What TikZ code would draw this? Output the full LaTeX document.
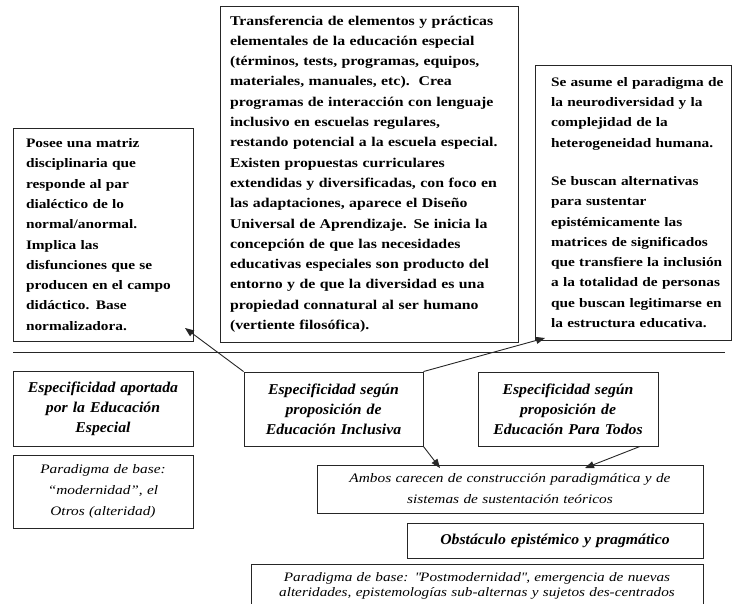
\documentclass[tikz,border=0pt]{standalone}
\usepackage{fontspec}
\setmainfont{Liberation Serif}[FakeStretch=1.18]
\newfontfamily\headfont{Liberation Serif}[FakeStretch=1.05]
\usetikzlibrary{arrows.meta}

\begin{document}
\begin{tikzpicture}[x=1pt,y=-1pt,
	box/.style={draw=black!85,line width=0.9pt,inner ysep=0pt},
	bodytxt/.style={box,align=left,font=\fontsize{13}{20.3}\selectfont\bfseries},
	headtxt/.style={box,align=center,text width=172pt,inner xsep=4pt,font=\fontsize{15}{20}\selectfont\headfont\bfseries\itshape},
	basetxt/.style={box,align=center,font=\fontsize{13}{21}\selectfont\itshape},
	arr/.style={draw=black!85,line width=0.9pt,-{Triangle[length=9pt,width=7pt]}}]

   \useasboundingbox (0,0) rectangle (734,603);

   % upper part
   \node[bodytxt,text width=154pt,inner xsep=13pt,minimum height=213pt] (lmatrix) at (103,234.5) {Posee una matriz\\
   disciplinaria que\\ responde al par\\ dialéctico de lo\\ normal/anormal.\\ Implica las\\
   disfunciones que se\\ producen en el campo\\ didáctico. Base\\ normalizadora.};

   \node[bodytxt,text width=278pt,inner xsep=10pt,minimum height=336pt,font=\fontsize{13.4}{20.3}\selectfont\bfseries] (transf) at (369,174) {Transferencia de elementos y prácticas\\
   elementales de la educación especial\\ (términos, tests, programas, equipos,\\ materiales, manuales, etc).\ \ Crea\\
   programas de interacción con lenguaje\\ inclusivo en escuelas regulares,\\ restando potencial a la escuela especial.\\
   Existen propuestas curriculares\\ extendidas y diversificadas, con foco en\\ las adaptaciones, aparece el Diseño\\
   Universal de Aprendizaje. Se inicia la\\ concepción de que las necesidades\\ educativas especiales son producto del\\
   entorno y de que la diversidad es una\\ propiedad connatural al ser humano\\ (vertiente filosófica).};

   \node[bodytxt,text width=190pt,inner xsep=3pt,minimum height=275pt] (neuro) at (633,202.5) {\hspace*{13pt}Se asume el paradigma de\\
   \hspace*{13pt}la neurodiversidad y la\\ \hspace*{13pt}complejidad de la\\ \hspace*{13pt}heterogeneidad humana.\\[18pt] \hspace*{13pt}Se buscan alternativas\\
   \hspace*{13pt}para sustentar\\ \hspace*{13pt}epistémicamente las\\ \hspace*{13pt}matrices de significados\\ \hspace*{13pt}que transfiere la inclusión\\
   \hspace*{13pt}a la totalidad de personas\\ \hspace*{13pt}que buscan legitimarse en\\ \hspace*{13pt}la estructura educativa.};

   \coordinate (sep_l) at (13,352);
   \coordinate (sep_r) at (725,352);
   \path[draw,black!85,line width=0.9pt] (sep_l) -- (sep_r);

   % lower part
   \node[headtxt,minimum height=75pt] (espec) at (103,408.5) {Especificidad aportada\\ por la Educación\\ Especial};
   \node[basetxt,text width=172pt,inner xsep=4pt,minimum height=73pt] (modern) at (103,491.5) {Paradigma de base:\\ “modernidad”, el\\ Otros (alteridad)};

   \node[headtxt,minimum height=74pt,text width=171pt] (incl) at (333.5,409) {Especificidad según\\ proposición de\\ Educación Inclusiva};
   \node[headtxt,minimum height=74pt] (todos) at (568,409) {Especificidad según\\ proposición de\\ Educación Para Todos};

   \node[basetxt,text width=378pt,inner xsep=4pt,minimum height=48pt,font=\fontsize{13}{21}\selectfont\itshape] (ambos) at (510,489) {Ambos carecen de construcción paradigmática y de\\ sistemas de sustentación teóricos};
   \node[headtxt,text width=288pt,minimum height=35pt] (obst) at (555,540.5) {Obstáculo epistémico y pragmático};
   \node[basetxt,text width=444pt,inner xsep=4pt,minimum height=42pt,font=\fontsize{12.9}{15}\selectfont\itshape,anchor=north] (postm) at (477,564) {Paradigma de base: \textquotedbl Postmodernidad\textquotedbl, emergencia de nuevas\\ alteridades, epistemologías sub-alternas y sujetos des-centrados};

   % arrows
   \coordinate (tip_lm) at (185,328);
   \coordinate (tip_nr) at (545,338);
   \coordinate (tip_a1) at (440,468);
   \coordinate (tip_a2) at (585,468);

   \path[arr] (incl.north west) to (tip_lm);
   \path[arr] (incl.north east) to (tip_nr);
   \path[arr] (incl.south east) to (tip_a1);
   \path[arr] ([xshift=72pt]todos.south) to (tip_a2);

\end{tikzpicture}
\end{document}
